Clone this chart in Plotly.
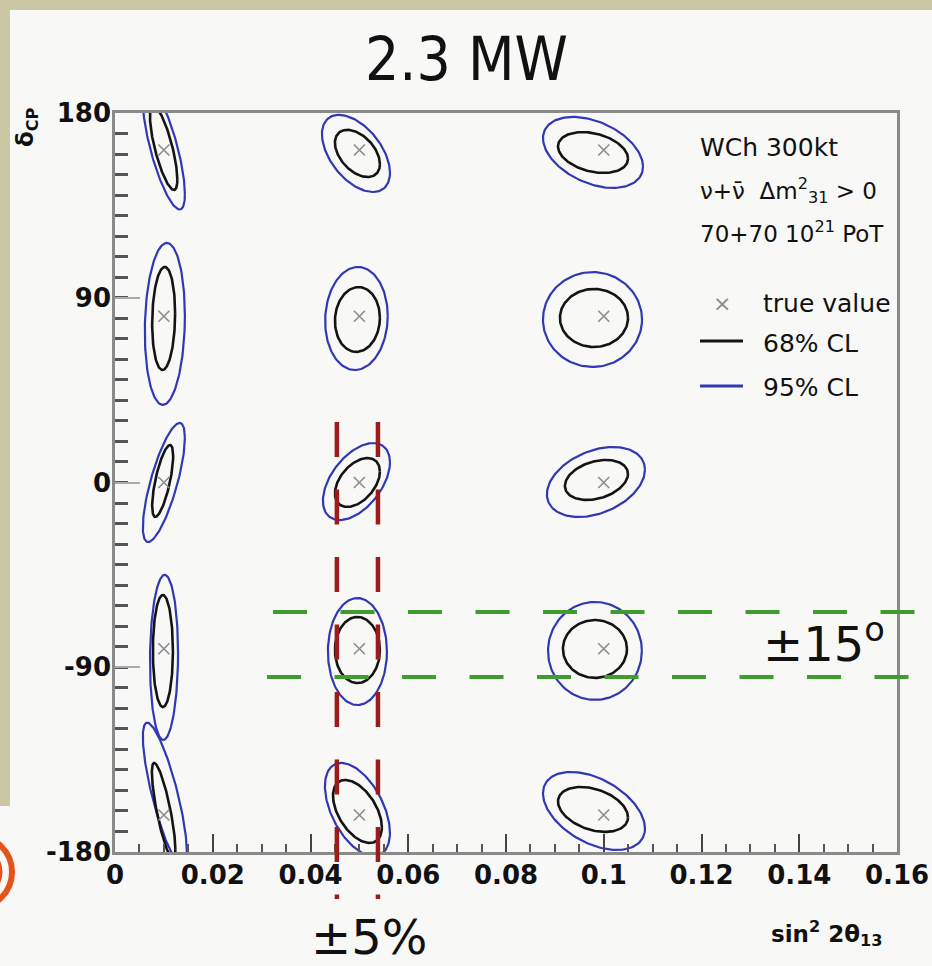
import numpy as np
import plotly.graph_objects as go

# ---------------- figure geometry (pixels) ----------------
W, H = 932, 966
ML, MR, MT, MB = 115, 35, 113, 114
PW, PH = W - ML - MR, H - MT - MB


def pxx(x):  # pixel x -> paper x
    return (x - ML) / PW


def pxy(y):  # pixel y (from top) -> paper y
    return (H - MB - y) / PH


# ---------------- data ----------------
# true values (grid of test points)
true_s2 = [0.01, 0.01, 0.01, 0.01, 0.01,
           0.05, 0.05, 0.05, 0.05, 0.05,
           0.10, 0.10, 0.10, 0.10, 0.10]
true_dcp = [162, 81, 0, -81, -162,
            162, 81, 0, -81, -162,
            162, 81, 0, -81, -162]

# 68% CL contours: centre, half extent, correlation
cl68_s2 = [0.00995, 0.00995, 0.00975, 0.0098, 0.00995,
           0.0496, 0.0496, 0.0496, 0.0496, 0.0496,
           0.0978, 0.0980, 0.0985, 0.0982, 0.0978]
cl68_dcp = [163, 79.9, 0.75, -82.1, -160,
            160.3, 79.4, 0.0, -81.6, -160.25,
            160.75, 80.15, 1.25, -81.1, -159.25]
cl68_ds2 = [0.0028, 0.00235, 0.00215, 0.00205, 0.0024,
            0.0046, 0.0046, 0.0046, 0.0046, 0.0050,
            0.00716, 0.00696, 0.00645, 0.00655, 0.00716]
cl68_ddcp = [20.5, 25.1, 17.5, 27.3, 23.4,
             11.5, 15.8, 11.9, 16.1, 15.35,
             9.95, 14.15, 9.75, 14.1, 10.95]
cl68_rho = [-0.75, 0.1, 0.7, 0.0, -0.8,
            -0.45, 0.05, 0.45, 0.0, -0.5,
            -0.3, 0.0, 0.3, 0.0, -0.35]

# 95% CL contours
cl95_s2 = [0.0100, 0.0102, 0.0100, 0.01003, 0.0102,
           0.0493, 0.0494, 0.0494, 0.0496, 0.0496,
           0.0978, 0.0977, 0.0984, 0.0982, 0.0980]
cl95_dcp = [163, 77.25, 0.0, -85.2, -152,
            160.3, 79.9, 0.45, -82.35, -159.3,
            160.8, 79.4, 0.25, -82.05, -160]
cl95_ds2 = [0.0043, 0.0041, 0.0043, 0.00287, 0.0045,
            0.00696, 0.0064, 0.00686, 0.00604, 0.00665,
            0.01023, 0.01013, 0.01003, 0.0096, 0.01043]
cl95_ddcp = [30, 39.45, 29, 40.2, 35,
             18.8, 25.1, 18.75, 26.05, 22.7,
             17.3, 23.1, 17.05, 23.85, 19]
cl95_rho = [-0.75, 0.1, 0.75, 0.05, -0.8,
            -0.5, 0.05, 0.5, 0.0, -0.5,
            -0.4, 0.0, 0.35, 0.0, -0.45]

# hand-drawn annotation bands
band_s2 = [0.0454, 0.0538]      # "±5%" red dashed verticals
band_s2_top = 29.5              # where the red dashes start (deg)
band_dcp = [-63.1, -94.7]       # "±15°" green dashed horizontals

# axis ticks
x_ticks = [0, 0.02, 0.04, 0.06, 0.08, 0.10, 0.12, 0.14, 0.16]
x_ticktext = ["0", "0.02", "0.04", "0.06", "0.08", "0.1", "0.12", "0.14", "0.16"]
y_ticks = [-180, -90, 0, 90, 180]
y_ticktext = ["-180", "-90", "0", "90", "180"]

# ---------------- styles ----------------
BLACK = "#141414"
BLUE = "#3038b4"
GREY = "#8c8c8c"
RED = "#9c1b1b"
GREEN = "#3e9d2e"
BEIGE = "#cbc6a3"
PANEL = "#f8f8f6"
FONT = "DejaVu Sans"
SLIDE_FONT = "DejaVu Sans Condensed, DejaVu Sans"


def ellipse(cx, cy, hx, hy, rho, n=160):
    t = np.linspace(0, 2 * np.pi, n)
    s = np.sqrt(1 - rho ** 2)
    return cx + hx * np.cos(t), cy + hy * (rho * np.cos(t) + s * np.sin(t))


def contour_xy(cs2, cd, hs2, hd, rho):
    xs, ys = [], []
    for a, b, c, d, r in zip(cs2, cd, hs2, hd, rho):
        ex, ey = ellipse(a, b, c, d, r)
        xs += list(ex) + [None]
        ys += list(ey) + [None]
    return xs, ys


fig = go.Figure()

x95, y95 = contour_xy(cl95_s2, cl95_dcp, cl95_ds2, cl95_ddcp, cl95_rho)
x68, y68 = contour_xy(cl68_s2, cl68_dcp, cl68_ds2, cl68_ddcp, cl68_rho)

fig.add_trace(go.Scatter(x=x95, y=y95, mode="lines", name="95% CL",
                         line=dict(color=BLUE, width=2.2), hoverinfo="skip"))
fig.add_trace(go.Scatter(x=x68, y=y68, mode="lines", name="68% CL",
                         line=dict(color=BLACK, width=2.6), hoverinfo="skip"))
fig.add_trace(go.Scatter(x=true_s2, y=true_dcp, mode="markers", name="true value",
                         marker=dict(symbol="x-thin", size=11,
                                     line=dict(color=GREY, width=1.6))))

shapes = []
# slide panel (white) over beige background
shapes.append(dict(type="rect", xref="paper", yref="paper", layer="below",
                   x0=pxx(10), x1=pxx(W + 60), y0=pxy(H + 60), y1=pxy(10),
                   fillcolor=PANEL, line=dict(width=0)))
shapes.append(dict(type="rect", xref="paper", yref="paper", layer="below",
                   x0=pxx(-20), x1=pxx(12), y0=pxy(H + 60), y1=pxy(806),
                   fillcolor=PANEL, line=dict(width=0)))
# fragment of a logo at the bottom-left edge
for r, wdt in [(36, 6), (24, 5), (12, 4)]:
    shapes.append(dict(type="circle", xref="paper", yref="paper", layer="below",
                       x0=pxx(-24 - r), x1=pxx(-24 + r), y0=pxy(872 + r), y1=pxy(872 - r),
                       line=dict(color="#e5531d", width=wdt)))

# red dashed verticals (±5%)
dcp_to_paper = lambda d: (d + 180) / 360.0
for xv in band_s2:
    shapes.append(dict(type="line", xref="x", yref="paper", layer="above",
                       x0=xv, x1=xv, y0=dcp_to_paper(band_s2_top), y1=pxy(899),
                       line=dict(color=RED, width=4.5, dash="35px,32.5px")))
# green dashed horizontals (±15°)
for yv, xs in zip(band_dcp, [273, 267]):
    shapes.append(dict(type="line", xref="paper", yref="y", layer="above",
                       x0=pxx(xs), x1=pxx(W + 2), y0=yv, y1=yv,
                       line=dict(color=GREEN, width=4, dash="34px,33.5px")))

# legend lines
shapes.append(dict(type="line", xref="paper", yref="paper",
                   x0=pxx(700), x1=pxx(743), y0=pxy(341), y1=pxy(341),
                   line=dict(color=BLACK, width=2.8)))
shapes.append(dict(type="line", xref="paper", yref="paper",
                   x0=pxx(700), x1=pxx(743), y0=pxy(386), y1=pxy(386),
                   line=dict(color=BLUE, width=2.8)))

annotations = []


def txt(text, x, y, size, xanchor="left", yanchor="middle", color="#111", family=FONT,
        weight="normal", angle=0):
    annotations.append(dict(text=text, xref="paper", yref="paper", x=pxx(x), y=pxy(y),
                            xanchor=xanchor, yanchor=yanchor, showarrow=False,
                            textangle=angle,
                            font=dict(family=family, size=size, color=color, weight=weight)))


# title
txt("2.3 MW", 466, 59, 60, xanchor="center", family=SLIDE_FONT)
# legend block
txt("WCh 300kt", 698, 148, 25)
txt("ν+ν̄  Δm<sup>2</sup><sub>31</sub> > 0", 698, 190, 23)
txt("70+70 10<sup>21</sup> PoT", 698, 232, 23)
txt("×", 722, 303, 22, xanchor="center", color=GREY)
txt("true value", 761, 303, 25)
txt("68% CL", 761, 343, 25)
txt("95% CL", 761, 387, 25)
# axis titles
txt("sin<sup>2</sup> 2θ<sub>13</sub>", 884, 933, 23, xanchor="right", weight="bold")
txt("δ<sub>CP</sub>", 27, 127, 23, xanchor="center", weight="bold", angle=-90)
# hand annotations
txt("±5%", 369, 937, 48, xanchor="center", family=FONT)
txt("±15<sup>o</sup>", 761, 641, 48, family=FONT)

tickfont = dict(family=FONT, size=26, color="#111")

fig.update_layout(
    width=W, height=H,
    autosize=False,
    font=dict(family=FONT, size=26, color="#111"),
    margin=dict(l=ML, r=MR, t=MT, b=MB, pad=0, autoexpand=False),
    paper_bgcolor=BEIGE,
    plot_bgcolor=PANEL,
    showlegend=False,
    shapes=shapes,
    annotations=annotations,
    xaxis=dict(range=[0, 0.16], tickmode="array", tickvals=x_ticks,
               ticktext=["<b>%s</b>" % t for t in x_ticktext],
               automargin=False,
               ticks="inside", ticklen=18, tickwidth=2, tickcolor="#444",
               minor=dict(dtick=0.005, tick0=0, ticks="inside", ticklen=8,
                          tickwidth=2, tickcolor="#555"),
               showgrid=False, zeroline=False, showline=True, linecolor="#8a8a8a",
               linewidth=2.5, mirror=True, tickfont=tickfont, ticklabelstandoff=-2),
    yaxis=dict(range=[-180, 180], tickmode="array", tickvals=y_ticks,
               ticktext=["<b>%s</b>" % t for t in y_ticktext],
               automargin=False,
               ticks="inside", ticklen=25, tickwidth=2, tickcolor="#aaaaaa",
               minor=dict(dtick=10, tick0=0, ticks="inside", ticklen=13,
                          tickwidth=2.5, tickcolor="#555"),
               showgrid=False, zeroline=False, showline=True, linecolor="#8a8a8a",
               linewidth=2.5, mirror=True, tickfont=tickfont, ticklabelstandoff=-4),
)

fig.write_html("out.html",
               config={"displayModeBar": False},
               post_script="document.body.style.margin='0px';document.body.style.overflow='hidden';")
